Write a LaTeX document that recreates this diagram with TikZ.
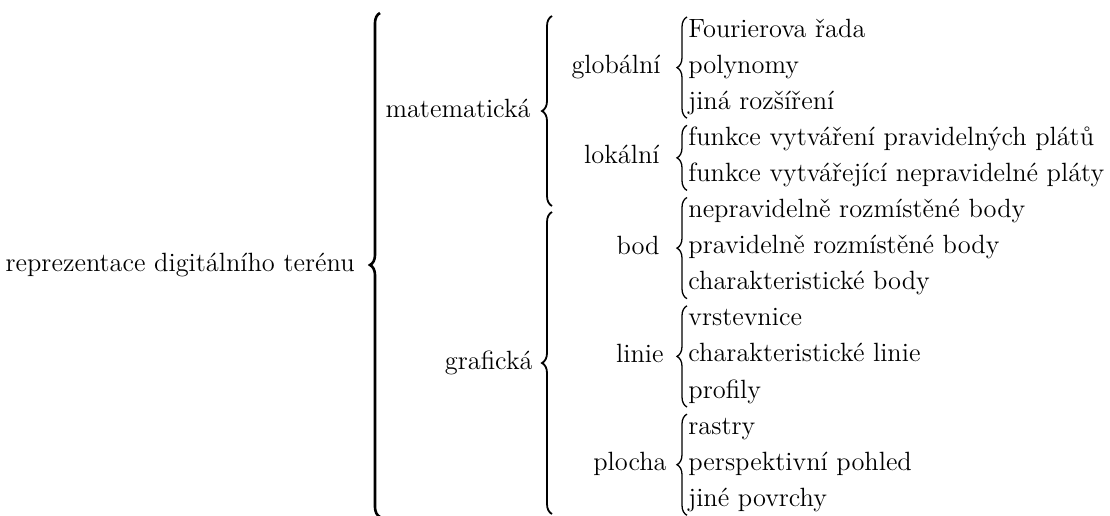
\documentclass[tikz,border=0pt]{standalone}
\usepackage{fontspec}
\usetikzlibrary{decorations.pathreplacing}
\begin{document}
\begin{tikzpicture}[x=0.5pt, y=-0.5pt,
  lbl/.style={inner sep=0pt, font=\fontsize{13.2}{16}\selectfont},
  lft/.style={lbl, anchor=base east},
  itm/.style={lbl, anchor=base west},
  brc/.style={decorate, decoration={brace, amplitude=5pt}, line width=0.65pt},
  bigbrc/.style={brc, line width=0.9pt},
  rootbrc/.style={brc, line width=1.3pt}]
\useasboundingbox (0,0) rectangle (1110,515);
% labels
\node[lft] (root) at (355,271) {reprezentace digitálního terénu};
\node[lft] (mat) at (531,117) {matematická};
\node[lft] (graf) at (533,369) {grafická};
\node[lft] (glob) at (661,73) {globální};
\node[lft] (lok) at (660,163) {lokální};
\node[lft] (bod) at (660,254) {bod};
\node[lft] (lin) at (664,362) {linie};
\node[lft] (plo) at (667,470) {plocha};
% items
\node[itm] (i0) at (688,37.0) {Fourierova řada};
\node[itm] (i1) at (688,73.1) {polynomy};
\node[itm] (i2) at (688,109.2) {jiná rozšíření};
\node[itm] (i3) at (688,145.3) {funkce vytváření pravidelných plátů};
\node[itm] (i4) at (688,181.4) {funkce vytvářející nepravidelné pláty};
\node[itm] (i5) at (688,217.5) {nepravidelně rozmístěné body};
\node[itm] (i6) at (688,253.6) {pravidelně rozmístěné body};
\node[itm] (i7) at (688,289.7) {charakteristické body};
\node[itm] (i8) at (688,325.8) {vrstevnice};
\node[itm] (i9) at (688,361.9) {charakteristické linie};
\node[itm] (i10) at (688,398.0) {profily};
\node[itm] (i11) at (688,434.1) {rastry};
\node[itm] (i12) at (688,470.2) {perspektivní pohled};
\node[itm] (i13) at (688,506.3) {jiné povrchy};
% brace end points
\coordinate (rootT) at (380,13);   \coordinate (rootB) at (380,517);
\coordinate (matT) at (552,16);    \coordinate (matB) at (552,206);
\coordinate (grafT) at (552,212);  \coordinate (grafB) at (552,514);
\coordinate (globT) at (687,17);   \coordinate (globB) at (687,118.2);
\coordinate (lokT) at (687,125.3); \coordinate (lokB) at (687,190.4);
\coordinate (bodT) at (687,197.5); \coordinate (bodB) at (687,298.7);
\coordinate (linT) at (687,305.8); \coordinate (linB) at (687,407);
\coordinate (ploT) at (687,414.1); \coordinate (ploB) at (687,515.3);
% braces
\draw[rootbrc] (rootB) -- (rootT);
\draw[bigbrc] (matB) -- (matT);
\draw[bigbrc] (grafB) -- (grafT);
\draw[brc] (globB) -- (globT);
\draw[brc] (lokB) -- (lokT);
\draw[brc] (bodB) -- (bodT);
\draw[brc] (linB) -- (linT);
\draw[brc] (ploB) -- (ploT);
\end{tikzpicture}
\end{document}
